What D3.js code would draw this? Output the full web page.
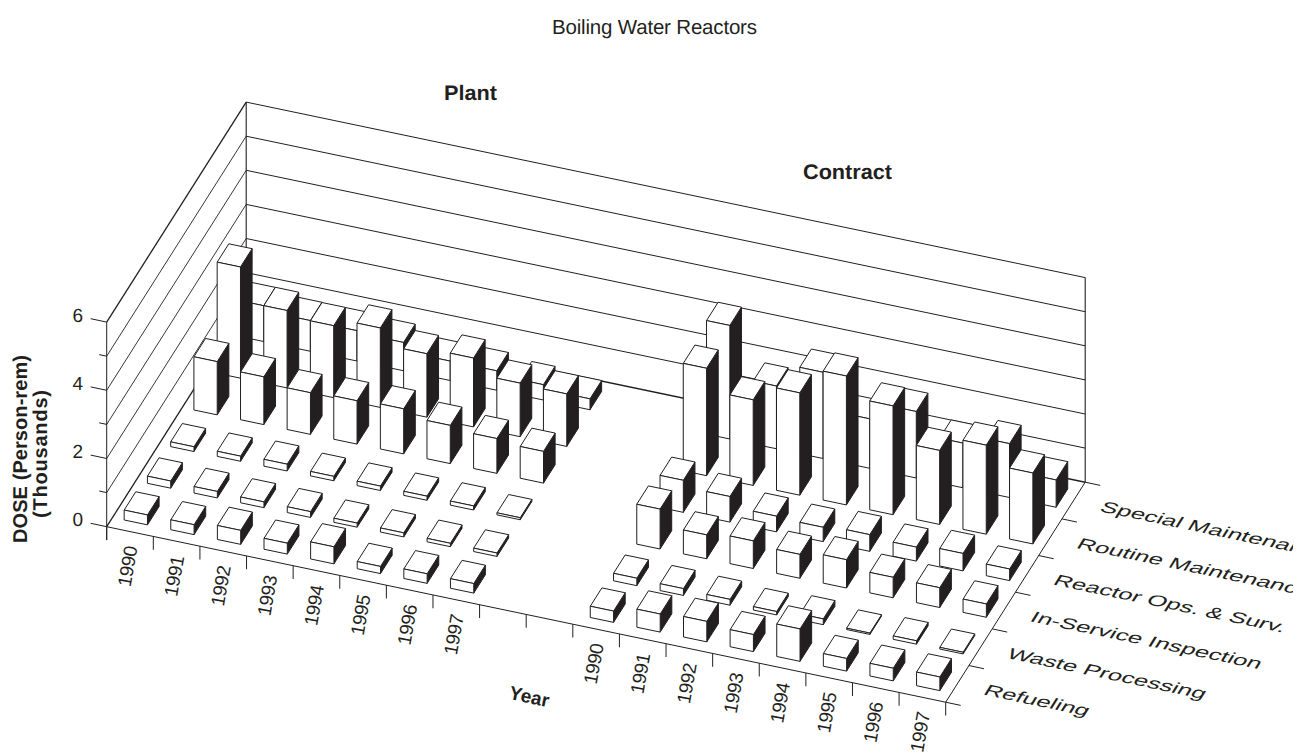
<!DOCTYPE html>
<html><head><meta charset="utf-8">
<style>html,body{margin:0;padding:0;background:#fff}svg{display:block}text{font-family:"Liberation Sans",Arial,sans-serif;fill:#231f20;text-rendering:geometricPrecision}</style>
<script src="https://cdn.jsdelivr.net/npm/d3@7"></script></head><body>
<script>
const years=["1990","1991","1992","1993","1994","1995","1996","1997"];
const categories=["Refueling","Waste Processing","In-Service Inspection","Reactor Ops. & Surv.","Routine Maintenance","Special Maintenance"];
const doseTicks=[0,1,2,3,4,5,6];
const doseLabels=[0,2,4,6];
const plantRefueling=[.29,.29,.41,.32,.5,.21,.28,.28];
const plantWaste=[.21,.19,.17,.17,.12,.12,.1,.1];
const plantInService=[.14,.15,.2,.13,.13,.12,.12,.06];
const plantReactor=[1.56,1.4,1.22,1.27,1.32,1.12,1.02,.93];
const plantRoutine=[3.26,2.27,2.11,2.33,1.86,2.02,1.57,1.54];
const plantSpecial=[1.05,.9,.89,.83,.57,.57,.45,.32];
const contractRefueling=[.33,.53,.6,.5,.95,.37,.37,.4];
const contractWaste=[.22,.2,.17,.1,.17,.04,.1,.05];
const contractInService=[1.17,.7,.81,.7,.83,.6,.58,.39];
const contractReactor=[.94,.75,.46,.42,.49,.41,.51,.34];
const contractRoutine=[3.15,2.51,3.0,3.78,3.19,2.17,2.61,2.08];
const contractSpecial=[3.33,1.84,2.53,1.45,1.95,1.31,1.58,.8];
const plantRows=[plantRefueling,plantWaste,plantInService,plantReactor,plantRoutine,plantSpecial];
const contractRows=[contractRefueling,contractWaste,contractInService,contractReactor,contractRoutine,contractSpecial];

const INK="#231f20";
const O=[106.7,526.7];
const slots=18,depth=6,zMax=6;
const xAlongX=d3.scaleLinear().domain([0,slots]).range([0,839]);
const xAlongY=d3.scaleLinear().domain([0,slots]).range([0,175.5]);
const dAlongX=d3.scaleLinear().domain([0,depth]).range([0,139.5]);
const dAlongY=d3.scaleLinear().domain([0,depth]).range([0,-220]);
const zAlongY=d3.scaleLinear().domain([0,zMax]).range([0,-204.6]);
const P=(i,j,z=0)=>[O[0]+xAlongX(i)+dAlongX(j),O[1]+xAlongY(i)+dAlongY(j)+zAlongY(z)];

const svg=d3.select("body").append("svg").attr("width",1312).attr("height",755);
svg.append("defs").append("clipPath").attr("id","clipR").append("rect").attr("x",900).attr("y",400).attr("width",393).attr("height",355);
const line=(g,a,b,w=1)=>g.append("line").attr("x1",a[0]).attr("y1",a[1]).attr("x2",b[0]).attr("y2",b[1]).attr("stroke",INK).attr("stroke-width",w);

const grid=svg.append("g");
doseTicks.forEach(z=>{
  const ends=z===0||z===6?1.3:.9;
  line(grid,P(0,0,z),P(0,depth,z),ends);
  line(grid,P(0,depth,z),P(slots,depth,z),z===0?1.4:1);
  const long=z%2===0;
  const a=P(0,0,z);
  line(grid,a,[a[0]-(long?16:7.5),a[1]-(long?3.4:1.6)]);
});
line(grid,P(0,0,0),[O[0],O[1]+13.5]);
line(grid,P(0,0,0),P(0,0,6));
line(grid,P(0,depth,0),P(0,depth,6),1.1);
line(grid,P(slots,depth,0),P(slots,depth,6),1.1);
line(grid,P(0,0,0),P(slots,0,0));
line(grid,P(slots,0,0),P(slots,depth,0));
d3.range(0,slots+1).forEach(i=>{const a=P(i,0);line(grid,a,[a[0],a[1]+13.3]);});
d3.range(0,depth+1).forEach(j=>{const a=P(slots,j);line(grid,a,[a[0]+15,a[1]+3.2]);});

const poly=(g,pts,fill)=>g.append("polygon").attr("points",pts.map(p=>p.map(v=>v.toFixed(2)).join(",")).join(" ")).attr("fill",fill).attr("stroke",INK).attr("stroke-width",1).attr("stroke-linejoin","round");
const bars=svg.append("g");
const lo=.25,hi=.75;
function box(i,j,v){
  const x0=i+lo,x1=i+hi,d0=j+lo,d1=j+hi;
  poly(bars,[P(x1,d0,0),P(x1,d1,0),P(x1,d1,v),P(x1,d0,v)],INK);
  poly(bars,[P(x0,d0,v),P(x0,d1,v),P(x1,d1,v),P(x1,d0,v)],"#fff");
  poly(bars,[P(x0,d0,0),P(x1,d0,0),P(x1,d0,v),P(x0,d0,v)],"#fff");
}
d3.range(depth-1,-1,-1).forEach(j=>{
  years.forEach((y,k)=>box(k,j,plantRows[j][k]));
  years.forEach((y,k)=>box(k+10,j,contractRows[j][k]));
});

const labels=svg.append("g");
const txt=(s,x,y,size,opt={})=>{
  const t=labels.append("text").text(s).attr("font-size",size).attr("text-anchor",opt.anchor||"middle")
   .attr("transform",opt.transform||`translate(${x},${y})`);
  if(opt.bold)t.attr("font-weight","bold");
  if(opt.len)t.attr("textLength",opt.len).attr("lengthAdjust",opt.adj||"spacing");
  return t;
};
txt("Boiling Water Reactors",654.5,33.5,20.5,{len:205});
txt("Plant",470.5,100,21,{bold:true,len:53,adj:"spacingAndGlyphs"});
txt("Contract",847.5,179,21,{bold:true,len:89,adj:"spacingAndGlyphs"});
txt("Year",528,703,19,{bold:true,transform:"translate(528,703) rotate(12)"});
txt("DOSE (Person-rem)",0,0,20,{bold:true,len:188,transform:"translate(27,449) rotate(-90)"});
txt("(Thousands)",0,0,20,{bold:true,len:128,transform:"translate(46.5,454) rotate(-90)"});
doseLabels.forEach(z=>{const a=P(0,0,z);txt(String(z),a[0]-29,a[1]-.5,19);});
[0,10].forEach(start=>years.forEach((y,k)=>{
  const a=P(start+k+.5,0);
  txt(y,0,0,19,{len:41,transform:`translate(${a[0]-2.5},${a[1]+34.5}) rotate(-80)`,anchor:"middle"}).attr("dy","0.35em");
}));
const catG=labels.append("g").attr("clip-path","url(#clipR)");
categories.forEach((c,j)=>{
  const a=P(slots,j+.5);
  const sx=1.57,ux=.979,uy=.205,vx=-.53,vy=.85,sy=1.05;
  catG.append("text").text(c).attr("font-size",16)
   .attr("transform",`matrix(${sx*ux},${sx*uy},${sy*vx},${sy*vy},${a[0]+25},${a[1]+10.5})`);
});
</script></body></html>
